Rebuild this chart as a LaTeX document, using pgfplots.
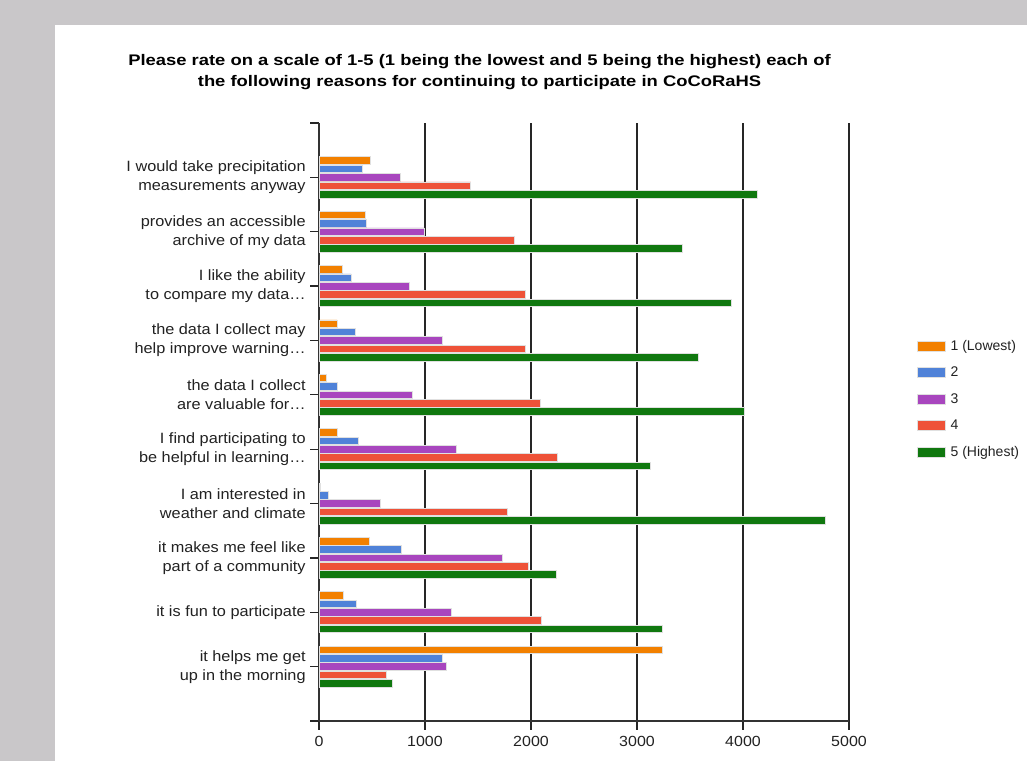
\documentclass[border=0pt]{standalone}
\usepackage{pgfplots}
\pgfplotsset{compat=1.18}
\usepackage{pgfplotstable}
\usepackage{fontspec}
\setmainfont{Liberation Sans}[FakeStretch=1.09]
\newfontfamily\titlefont{Liberation Sans}[FakeStretch=1.2]
\newfontfamily\plainfont{Liberation Sans}
\definecolor{c1}{HTML}{F28000}
\definecolor{c2}{HTML}{5082D8}
\definecolor{c3}{HTML}{A846BE}
\definecolor{c4}{HTML}{EE5238}
\definecolor{c5}{HTML}{10780F}
\definecolor{bgg}{HTML}{C9C7C9}
\definecolor{txt}{HTML}{222222}
\pgfplotstableread{
y s1 s2 s3 s4 s5
10 483 410 770 1432 4132
9 435 448 997 1839 3426
8 221 303 855 1950 3893
7 170 341 1167 1950 3580
6 73 174 880 2092 4013
5 174 375 1300 2249 3126
4 16 88 580 1779 4779
3 472 775 1733 1971 2235
2 226 357 1251 2097 3241
1 3241 1166 1204 640 696
}\data
\begin{document}
\begin{tikzpicture}
\path[use as bounding box] (0,0) rectangle ({1027*0.75pt},{-761*0.75pt});
\fill[bgg] (0,0) rectangle ({1027*0.75pt},{-761*0.75pt});
\fill[white] ({55*0.75pt},{-25*0.75pt}) rectangle ({1027*0.75pt},{-761*0.75pt});
\node[font=\titlefont\bfseries\fontsize{11.5}{15.75}\selectfont, align=center, text=black] at ({479.5*0.75pt},{-72.5*0.75pt})
 {Please rate on a scale of 1-5 (1 being the lowest and 5 being the highest) each of\\the following reasons for continuing to participate in CoCoRaHS};
\begin{axis}[
 at={({319*0.75pt},{-721*0.75pt})}, anchor=south west,
 width=397.5pt, height=448.5pt, scale only axis,
 xmin=0, xmax=5000, ymin=0, ymax=11,
 xbar, bar width=0.14,
 axis x line*=bottom, axis y line*=left,
 axis line style={black!80, line width=0.9pt},
 xtick={0,1000,2000,3000,4000,5000},
 xmajorgrids, grid style={black!85, line width=0.9pt},
 ytick={0,1,2,3,4,5,6,7,8,9,10,11},
 yticklabels={{},{it helps me get\\up in the morning},{it is fun to participate},{it makes me feel like\\part of a community},{I am interested in\\weather and climate},{I find participating to\\be helpful in learning…},{the data I collect\\are valuable for…},{the data I collect may\\help improve warning…},{I like the ability\\to compare my data…},{provides an accessible\\archive of my data},{I would take precipitation\\measurements anyway},{}},
 tick align=outside, major tick length=6.5pt,
 tick style={black!85, line width=0.9pt},
 xticklabel style={font=\fontsize{11}{13}\selectfont, text=txt, yshift=-1.5pt},
 yticklabel style={font=\fontsize{11.2}{14.25}\selectfont, text=txt, align=right},
 /pgf/number format/1000 sep={},
 /pgf/number format/assume math mode=true,
 legend style={at={(1.1205,0.6466)}, anchor=north west, draw=none, fill=none,
   font=\plainfont\fontsize{10.5}{12}\selectfont, text=txt, row sep=7.1pt,
   /tikz/every odd column/.append style={column sep=1.5pt}},
 legend cell align=left,
 legend image code/.code={\path[#1] (0pt,-3.75pt) rectangle (21pt,3.75pt);},
 every axis plot/.append style={draw=black!12, line width=0.6pt},
]
\addplot[fill=c1, bar shift=0.308] table[x=s1,y=y]{\data};
\addplot[fill=c2, bar shift=0.154] table[x=s2,y=y]{\data};
\addplot[fill=c3, bar shift=0] table[x=s3,y=y]{\data};
\addplot[fill=c4, bar shift=-0.154] table[x=s4,y=y]{\data};
\addplot[fill=c5, bar shift=-0.308] table[x=s5,y=y]{\data};
\legend{1 (Lowest),2,3,4,5 (Highest)}
\end{axis}
\end{tikzpicture}
\end{document}
